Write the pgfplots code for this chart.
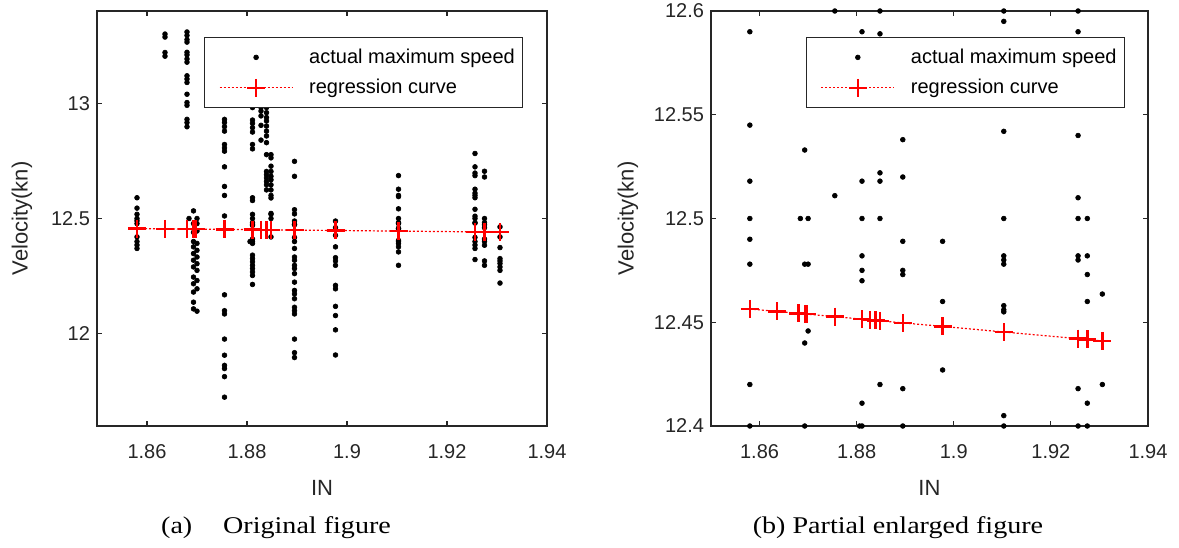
\documentclass[border=0pt]{standalone}
\usepackage{fontspec}
\setmainfont{Liberation Serif}
\newfontfamily\axfont{Liberation Sans}
\usepackage{pgfplots}
\pgfplotsset{compat=1.18}
\usepackage{pgfplotstable}
\definecolor{axgray}{RGB}{38,38,38}

\pgfplotstableread{
x y
1.858 12.59
1.858 12.545
1.858 12.518
1.858 12.5
1.858 12.49
1.858 12.478
1.858 12.42
1.858 12.4
1.858 12.385
1.858 12.37
1.8636 13.30
1.8636 13.287
1.8636 13.22
1.8636 13.204
1.868 13.309
1.868 13.294
1.868 13.276
1.868 13.265
1.868 13.221
1.868 13.21
1.868 13.192
1.868 13.178
1.868 13.119
1.868 13.105
1.868 13.09
1.868 13.039
1.868 13.003
1.868 12.991
1.868 12.93
1.868 12.916
1.868 12.898
1.8684 12.5
1.8693 12.533
1.8693 12.478
1.8693 12.44
1.8693 12.4
1.8693 12.377
1.8693 12.348
1.8693 12.319
1.8693 12.29
1.8693 12.246
1.8693 12.217
1.8693 12.181
1.8693 12.137
1.8693 12.108
1.870 12.5
1.870 12.478
1.870 12.4458
1.870 12.392
1.870 12.362
1.870 12.333
1.870 12.304
1.870 12.275
1.870 12.231
1.870 12.195
1.870 12.098
1.8755 12.996
1.8755 12.93
1.8755 12.916
1.8755 12.898
1.8755 12.879
1.8755 12.821
1.8755 12.806
1.8755 12.792
1.8755 12.724
1.8755 12.639
1.8755 12.6
1.8755 12.511
1.8755 12.169
1.8755 12.1
1.8755 12.086
1.8755 11.977
1.8755 11.907
1.8755 11.863
1.8755 11.849
1.8755 11.814
1.8755 11.725
1.8811 12.981
1.8811 12.927
1.8811 12.913
1.8811 12.894
1.8811 12.875
1.8811 12.821
1.8811 12.802
1.8811 12.59
1.8811 12.578
1.8811 12.518
1.8811 12.5
1.8811 12.482
1.8811 12.475
1.8811 12.47
1.8811 12.411
1.8811 12.4
1.8806 12.4
1.8811 12.392
1.8811 12.341
1.8811 12.326
1.8811 12.312
1.8811 12.297
1.8811 12.283
1.8811 12.268
1.8811 12.253
1.8811 12.214
1.8828 12.981
1.8828 12.966
1.8828 12.945
1.8828 12.904
1.8828 12.84
1.8839 12.981
1.8839 12.959
1.8839 12.938
1.8839 12.923
1.8839 12.901
1.8839 12.879
1.8839 12.858
1.8839 12.829
1.8839 12.777
1.8839 12.704
1.8839 12.69
1.8839 12.676
1.8839 12.661
1.8839 12.646
1.8839 12.624
1.8848 12.777
1.8848 12.763
1.8848 12.727
1.8848 12.704
1.8848 12.683
1.8848 12.668
1.8848 12.646
1.8848 12.624
1.8848 12.6
1.8848 12.589
1.8848 12.522
1.8848 12.518
1.8848 12.5
1.8848 12.42
1.8895 12.748
1.8895 12.683
1.8895 12.538
1.8895 12.52
1.8895 12.489
1.8895 12.475
1.8895 12.473
1.8895 12.418
1.8895 12.4
1.8895 12.37
1.8895 12.333
1.8895 12.319
1.8895 12.297
1.8895 12.283
1.8895 12.261
1.8895 12.224
1.8895 12.188
1.8895 12.173
1.8895 12.152
1.8895 12.115
1.8895 12.1
1.8895 12.086
1.8895 11.977
1.8895 11.918
1.8895 11.897
1.8977 12.489
1.8977 12.46
1.8977 12.427
1.8977 12.377
1.8977 12.33
1.8977 12.316
1.8977 12.297
1.8977 12.21
1.8977 12.195
1.8977 12.119
1.8977 12.079
1.8977 12.017
1.8977 11.908
1.9103 12.686
1.9103 12.627
1.9103 12.6
1.9103 12.595
1.9103 12.542
1.9103 12.5
1.9103 12.482
1.9103 12.48
1.9103 12.478
1.9103 12.458
1.9103 12.456
1.9103 12.455
1.9103 12.405
1.9103 12.4
1.9103 12.392
1.9103 12.377
1.9103 12.355
1.9103 12.297
1.9256 12.782
1.9256 12.724
1.9256 12.697
1.9256 12.686
1.9256 12.627
1.9256 12.61
1.9256 12.6
1.9256 12.59
1.9256 12.54
1.9256 12.51
1.9256 12.5
1.9256 12.482
1.9256 12.48
1.9256 12.418
1.9256 12.4
1.9256 12.385
1.9256 12.37
1.9256 12.322
1.9275 12.705
1.9275 12.68
1.9275 12.5
1.9275 12.482
1.9275 12.473
1.9275 12.46
1.9275 12.411
1.9275 12.4
1.9275 12.384
1.9275 12.316
1.9275 12.297
1.9306 12.4636
1.9306 12.42
1.9306 12.374
1.9306 12.326
1.9306 12.316
1.9306 12.305
1.9306 12.29
1.9306 12.275
1.9306 12.22
}\speeddata

\pgfplotstableread{
x y
1.858 12.4564
1.8636 12.4552
1.868 12.4543
1.8693 12.4540
1.8698 12.4539
1.8755 12.4527
1.8811 12.4515
1.8828 12.4511
1.8839 12.4509
1.8848 12.4507
1.8895 12.4497
1.8977 12.4480
1.9103 12.4453
1.9256 12.4421
1.9275 12.4417
1.9306 12.4410
}\regdata

\pgfplotsset{
  common/.style={
    scale only axis,
    height=207.5pt,
    anchor=south west,
    xmin=1.85, xmax=1.94,
    xtick={1.86,1.88,1.9,1.92,1.94},
    tick align=inside, tick pos=both,
    major tick length=2.5pt,
    axis line style={axgray, line width=0.6pt},
    every tick/.style={axgray, line width=0.6pt},
    /pgf/number format/assume math mode=true,
    tick label style={font=\axfont\fontsize{10}{12}\selectfont, text=axgray},
    xticklabel style={anchor=base, yshift=-16pt},
    xlabel={IN},
    ylabel={Velocity(kn)},
    xlabel style={font=\axfont\fontsize{11}{13}\selectfont, text=axgray, at={(axis description cs:0.5,0)}, anchor=base, yshift=-34.5pt},
    ylabel style={font=\axfont\fontsize{11}{13}\selectfont, text=axgray, anchor=center, rotate=0},
    legend cell align=left,
    legend style={anchor=north west, draw=axgray, line width=0.5pt,
      font=\axfont\fontsize{10}{12}\selectfont, text=black,
      inner xsep=2pt, inner ysep=3.5pt, row sep=2.5pt, column sep=6pt},
  },
  scat/.style={only marks, mark=*, mark size=1.2pt, black, line width=0.3pt,
    legend image code/.code={\pgfpathrectangle{\pgfpoint{0pt}{-1pt}}{\pgfpoint{42pt}{2pt}}\pgfusepath{}%
      \draw[##1] plot coordinates {(23.75pt,0pt)};}},
  reg/.style={red, line width=0.6pt, dash pattern=on 1pt off 1pt, mark=+, mark size=4.5pt,
    mark options={solid, line width=1.2pt},
    legend image code/.code={\pgfpathrectangle{\pgfpoint{0pt}{-1pt}}{\pgfpoint{42pt}{2pt}}\pgfusepath{}%
      \draw[##1, mark=none] (5.5pt,0pt) -- (42pt,0pt);
      \draw[##1] plot coordinates {(23.75pt,0pt)};}},
}

\begin{document}
\begin{tikzpicture}
\useasboundingbox (0,0) rectangle (589.5pt,273.5pt);
\begin{axis}[common, at={(48.5pt,60.5pt)}, width=225pt,
  ymin=11.6, ymax=13.4, ytick={12,12.5,13},
  ylabel style={at={(axis description cs:-0.1667,0.5)}},
  legend style={at={(axis description cs:0.238,0.937)}}]
\addplot[scat] table[x=x,y=y]{\speeddata};
\addlegendentry{actual maximum speed}
\addplot[reg] table[x=x,y=y]{\regdata};
\addlegendentry{regression curve}
\end{axis}
\begin{axis}[common, at={(355.5pt,60.5pt)}, width=218.5pt,
  ymin=12.4, ymax=12.6, ytick={12.4,12.45,12.5,12.55,12.6},
  ylabel style={at={(axis description cs:-0.19,0.5)}},
  legend style={at={(axis description cs:0.217,0.937)}}]
\addplot[scat, restrict y to domain=12.3999:12.6001] table[x=x,y=y]{\speeddata};
\addlegendentry{actual maximum speed}
\addplot[reg] table[x=x,y=y]{\regdata};
\addlegendentry{regression curve}
\end{axis}
\node[anchor=base] at (138pt,7pt) {\scalebox{1.17}[1]{\fontsize{12}{14}\selectfont (a)\hspace{1.1em}Original figure}};
\node[anchor=base] at (449pt,7pt) {\scalebox{1.17}[1]{\fontsize{12}{14}\selectfont (b) Partial enlarged figure}};
\end{tikzpicture}
\end{document}
